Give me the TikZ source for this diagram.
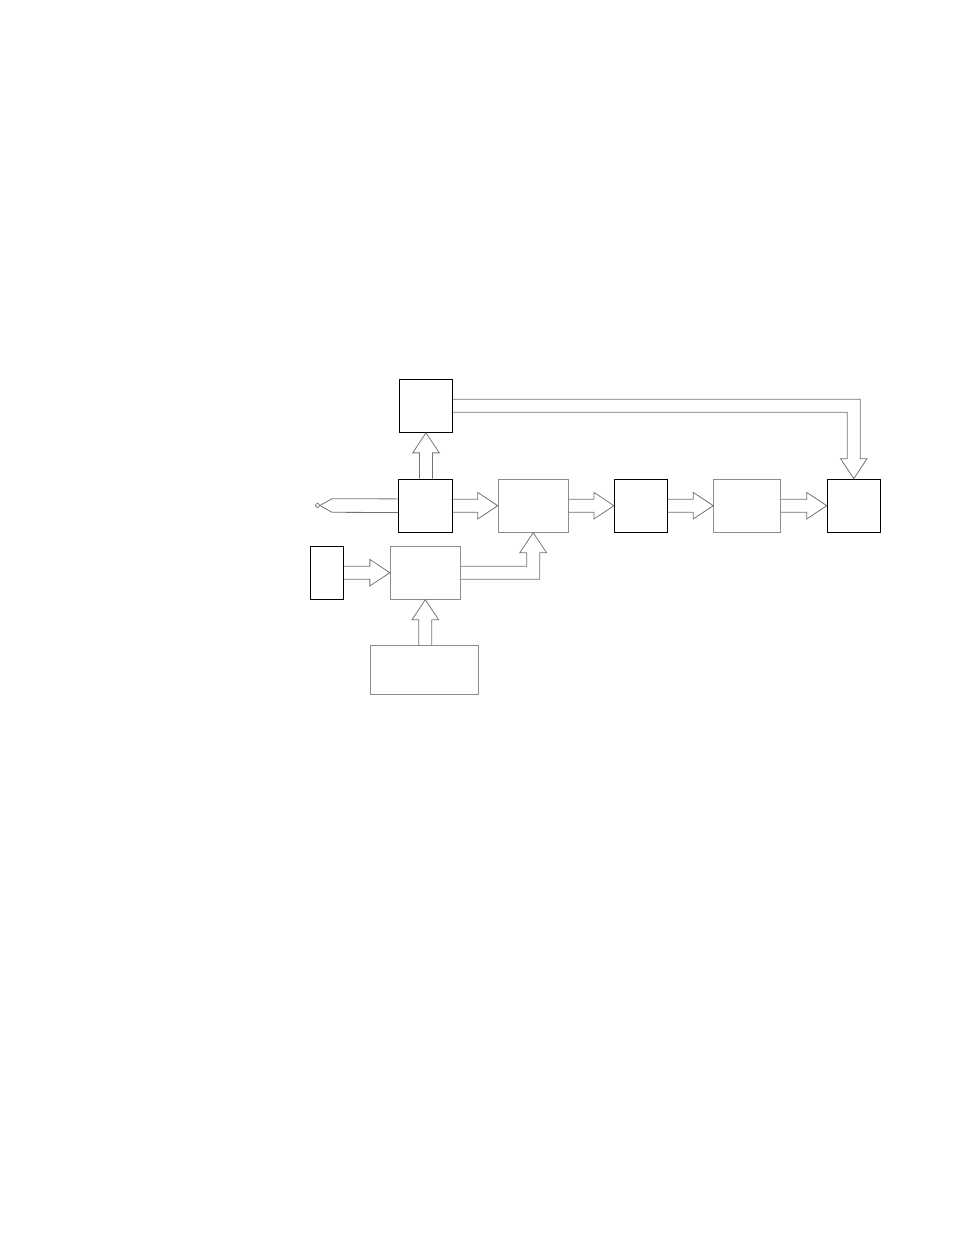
\documentclass[tikz,border=0pt]{standalone}
\usetikzlibrary{calc}

\tikzset{
  blk/.style={rectangle, draw=black, line width=1.1pt, inner sep=0pt, minimum height=53pt},
  gry/.style={rectangle, draw=black!45, line width=0.9pt, inner sep=0pt, minimum height=53pt},
  fat/.style={draw=black!55, line width=0.8pt, line join=miter},
}

% hollow arrow, pointing right, from #1 to #2
\newcommand{\fatright}[2]{%
  \draw[fat] ($(#1.east |- #2.west)+(0,-6.5)$) -- ($(#2.west)+(-20,-6.5)$)
    -- ($(#2.west)+(-20,-13.3)$) -- (#2.west) -- ($(#2.west)+(-20,13.3)$)
    -- ($(#2.west)+(-20,6.5)$) -- ($(#1.east |- #2.west)+(0,6.5)$);}
% hollow arrow, pointing up, from #1 to #2
\newcommand{\fatup}[2]{%
  \draw[fat] ($(#1.north -| #2.south)+(-6.5,0)$) -- ($(#2.south)+(-6.5,20)$)
    -- ($(#2.south)+(-13.3,20)$) -- (#2.south) -- ($(#2.south)+(13.3,20)$)
    -- ($(#2.south)+(6.5,20)$) -- ($(#1.north -| #2.south)+(6.5,0)$);}

\begin{document}
\begin{tikzpicture}[x=1pt, y=-1pt]
                \useasboundingbox (0,0) rectangle (954,1235);

                \node[blk, minimum width=53pt] (top) at (426, 405.8) {};
                \node[blk, minimum width=54pt] (amp) at (425.5, 505.7) {};
                \node[gry, minimum width=70pt] (mix) at (533.2, 505.7) {};
                \node[blk, minimum width=53pt] (proc) at (641, 505.7) {};
                \node[gry, minimum width=67pt] (conv) at (747.2, 505.7) {};
                \node[blk, minimum width=53pt] (out) at (853.8, 505.7) {};
                \node[blk, minimum width=33pt] (src) at (326.8, 572.7) {};
                \node[gry, minimum width=70pt] (gen) at (425.3, 572.7) {};
                \node[gry, minimum width=108pt, minimum height=49pt] (base) at (424.3, 670) {};
                \node[circle, draw=black!60, line width=0.7pt, minimum size=4pt, inner sep=0pt] (probe) at (317.5, 505.5) {};

                % probe leads
                \draw[fat] (probe.east) -- ($(probe)+(14.5,-6.8)$) -- ($(amp.west)+(0,-6.8)$);
                \draw[fat] (probe.east) -- ($(probe)+(14.5,6.8)$) -- ($(amp.west)+(0,6.8)$);

                \fatright{amp}{mix}
                \fatright{mix}{proc}
                \fatright{proc}{conv}
                \fatright{conv}{out}
                \fatright{src}{gen}
                \fatup{amp}{top}
                \fatup{base}{gen}

                % gen to mix, turning up
                \coordinate (c1) at (mix.south |- gen.east);
                \draw[fat] ($(gen.east)+(0,-6.5)$) -- ($(c1)+(-6.5,-6.5)$) -- ($(mix.south)+(-6.5,20)$)
                    -- ($(mix.south)+(-13.3,20)$) -- (mix.south) -- ($(mix.south)+(13.3,20)$)
                    -- ($(mix.south)+(6.5,20)$) -- ($(c1)+(6.5,6.5)$) -- ($(gen.east)+(0,6.5)$);

                % top to out, turning down
                \coordinate (c2) at (out.north |- top.east);
                \draw[fat] ($(top.east)+(0,-6.5)$) -- ($(c2)+(6.5,-6.5)$) -- ($(out.north)+(6.5,-20)$)
                    -- ($(out.north)+(13.3,-20)$) -- (out.north) -- ($(out.north)+(-13.3,-20)$)
                    -- ($(out.north)+(-6.5,-20)$) -- ($(c2)+(-6.5,6.5)$) -- ($(top.east)+(0,6.5)$);
            \end{tikzpicture}
\end{document}
